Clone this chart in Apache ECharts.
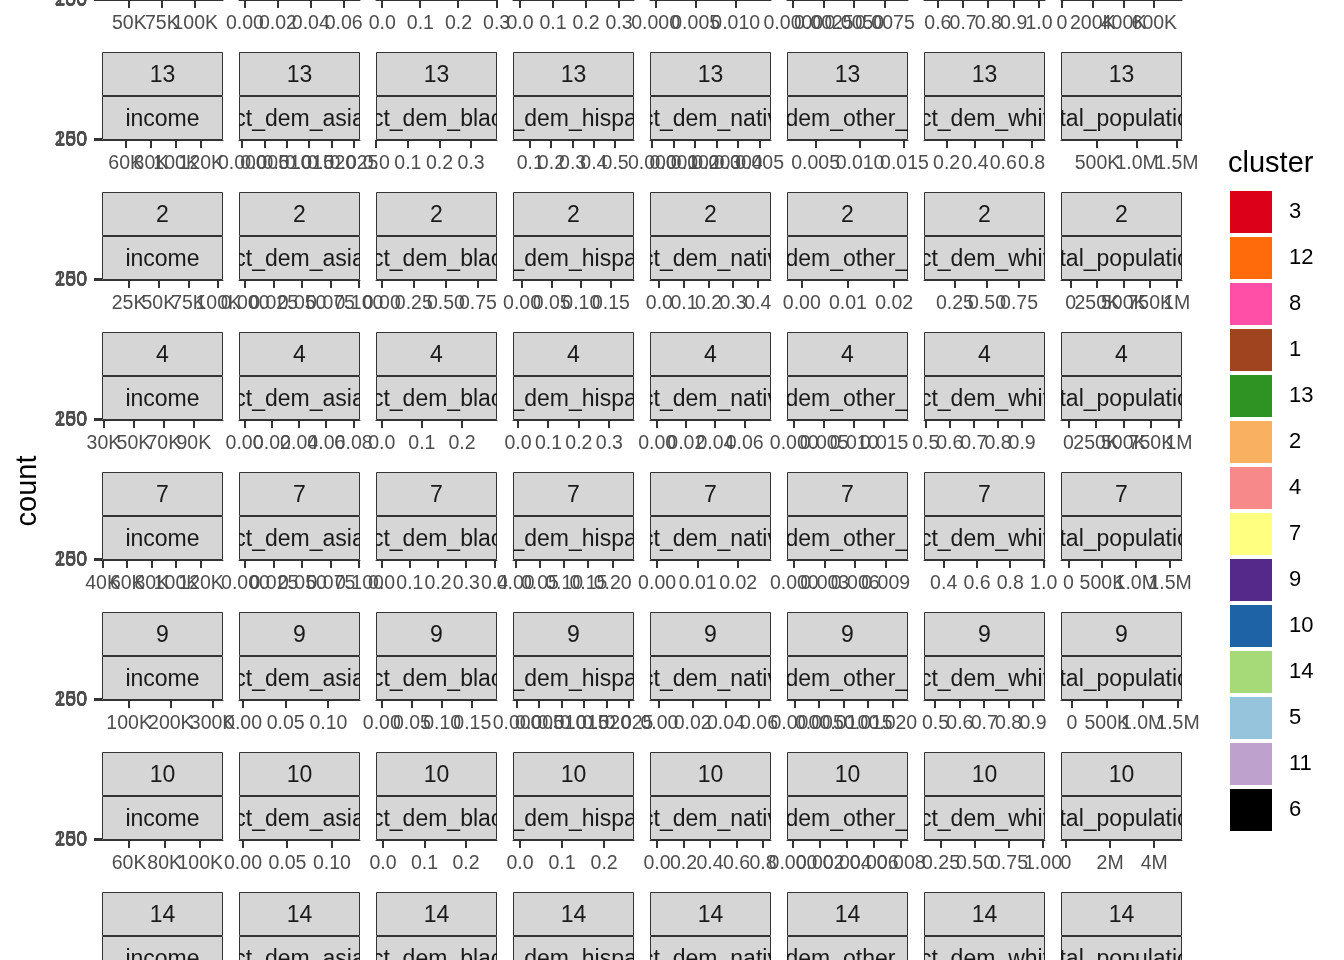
<!DOCTYPE html>
<html>
<head>
<meta charset="utf-8">
<script src="https://cdn.jsdelivr.net/npm/echarts@6/dist/echarts.min.js"></script>
<style>
html,body{margin:0;padding:0;background:#ffffff;}
#chart{width:1344px;height:960px;}
</style>
</head>
<body>
<div id="chart"></div>
<script>
// ---------------- data ----------------
const variables = ['income','pct_dem_asian','pct_dem_black','pct_dem_hispanic','pct_dem_native','pct_dem_other_race','pct_dem_white','total_population'];
const legendClusters = ['3','12','8','1','13','2','4','7','9','10','14','5','11','6'];
const clusterColors = ['#DC0019','#FF6A0A','#FF4FA7','#A0441F','#2E9322','#F9B061','#F8898A','#FFFF80','#55298A','#1D63A5','#A6DA79','#96C4DD','#BEA1CC','#000000'];
// facet rows visible in the picture (top row 1 and bottom row 14 are cut off)
const visibleClusters = ['1','13','2','4','7','9','10','14'];
const countBreaks = [0,50,100,150,200,250];
const countLabels = ['0','50','100','150','200','250'];

// x ranges, breaks and tick labels per facet row (one entry per variable)
const limits1 = [[29300,121000],[-0.0036,0.0699],[-0.0163,0.301],[-0.021,0.345],[-0.0007,0.0144],[-0.00052,0.00939],[0.545,1.024],[-6500,780000]];
const breaks1 = [[50000,75000,100000],[0,0.02,0.04,0.06],[0,0.1,0.2,0.3],[0,0.1,0.2,0.3],[0,0.005,0.01],[0,0.0025,0.005,0.0075],[0.6,0.7,0.8,0.9,1.0],[0,200000,400000,600000]];
const labels1 = [['50K','75K','100K'],['0.00','0.02','0.04','0.06'],['0.0','0.1','0.2','0.3'],['0.0','0.1','0.2','0.3'],['0.000','0.005','0.010'],['0.0000','0.0025','0.0050','0.0075'],['0.6','0.7','0.8','0.9','1.0'],['0','200K','400K','600K']];

const limits13 = [[41200,137200],[-0.00074,0.02634],[-0.001,0.382],[0.019,0.589],[-0.00011,0.00553],[0.00178,0.0154],[0.04,0.895],[40000,1565000]];
const breaks13 = [[60000,80000,100000,120000],[0,0.005,0.01,0.015,0.02,0.025],[0,0.1,0.2,0.3],[0.1,0.2,0.3,0.4,0.5],[0,0.001,0.002,0.003,0.004,0.005],[0.005,0.01,0.015],[0.2,0.4,0.6,0.8],[500000,1000000,1500000]];
const labels13 = [['60K','80K','100K','120K'],['0.000','0.005','0.010','0.015','0.020','0.025'],['0.0','0.1','0.2','0.3'],['0.1','0.2','0.3','0.4','0.5'],['0.000','0.001','0.002','0.003','0.004','0.005'],['0.005','0.010','0.015'],['0.2','0.4','0.6','0.8'],['500K','1.0M','1.5M']];

const limits2 = [[2200,104000],[-0.0054,0.1009],[-0.045,0.899],[-0.0152,0.189],[-0.038,0.454],[-0.0032,0.023],[0.008,0.953],[-92000,1050000]];
const breaks2 = [[25000,50000,75000,100000],[0,0.025,0.05,0.075,0.1],[0,0.25,0.5,0.75],[0,0.05,0.1,0.15],[0,0.1,0.2,0.3,0.4],[0,0.01,0.02],[0.25,0.5,0.75],[0,250000,500000,750000,1000000]];
const labels2 = [['25K','50K','75K','100K'],['0.000','0.025','0.050','0.075','0.100'],['0.00','0.25','0.50','0.75'],['0.00','0.05','0.10','0.15'],['0.0','0.1','0.2','0.3','0.4'],['0.00','0.01','0.02'],['0.25','0.50','0.75'],['0','250K','500K','750K','1M']];

const limits4 = [[28700,109500],[-0.0041,0.0847],[-0.0142,0.287],[-0.0164,0.381],[-0.0049,0.0781],[-0.0012,0.019],[0.493,0.995],[-68000,1027000]];
const breaks4 = [[30000,50000,70000,90000],[0,0.02,0.04,0.06,0.08],[0,0.1,0.2],[0,0.1,0.2,0.3],[0,0.02,0.04,0.06],[0,0.005,0.01,0.015],[0.5,0.6,0.7,0.8,0.9],[0,250000,500000,750000,1000000]];
const labels4 = [['30K','50K','70K','90K'],['0.00','0.02','0.04','0.06','0.08'],['0.0','0.1','0.2'],['0.0','0.1','0.2','0.3'],['0.00','0.02','0.04','0.06'],['0.000','0.005','0.010','0.015'],['0.5','0.6','0.7','0.8','0.9'],['0','250K','500K','750K','1M']];

const limits7 = [[39500,137800],[-0.0057,0.1005],[-0.02,0.4085],[-0.0054,0.244],[-0.00175,0.0281],[-0.00072,0.0112],[0.282,1.008],[-111000,1676000]];
const breaks7 = [[40000,60000,80000,100000,120000],[0,0.025,0.05,0.075,0.1],[0,0.1,0.2,0.3,0.4],[0,0.05,0.1,0.15,0.2],[0,0.01,0.02],[0,0.003,0.006,0.009],[0.4,0.6,0.8,1.0],[0,500000,1000000,1500000]];
const labels7 = [['40K','60K','80K','100K','120K'],['0.000','0.025','0.050','0.075','0.100'],['0.0','0.1','0.2','0.3','0.4'],['0.00','0.05','0.10','0.15','0.20'],['0.00','0.01','0.02'],['0.000','0.003','0.006','0.009'],['0.4','0.6','0.8','1.0'],['0','500K','1.0M','1.5M']];

const limits9 = [[35000,325000],[-0.0047,0.137],[-0.0096,0.191],[-0.0009,0.0261],[-0.0057,0.0672],[-0.0016,0.0231],[0.453,0.949],[-154000,1556000]];
const breaks9 = [[100000,200000,300000],[0,0.05,0.1],[0,0.05,0.1,0.15],[0,0.005,0.01,0.015,0.02,0.025],[0,0.02,0.04,0.06],[0,0.005,0.01,0.015,0.02],[0.5,0.6,0.7,0.8,0.9],[0,500000,1000000,1500000]];
const labels9 = [['100K','200K','300K'],['0.00','0.05','0.10'],['0.00','0.05','0.10','0.15'],['0.000','0.005','0.010','0.015','0.020','0.025'],['0.00','0.02','0.04','0.06'],['0.000','0.005','0.010','0.015','0.020'],['0.5','0.6','0.7','0.8','0.9'],['0','500K','1.0M','1.5M']];

const limits10 = [[44800,112800],[-0.0045,0.1315],[-0.0169,0.2747],[-0.0167,0.271],[-0.053,0.86],[-0.00044,0.0085],[0.125,1.0147],[-225000,5260000]];
const breaks10 = [[60000,80000,100000],[0,0.05,0.1],[0,0.1,0.2],[0,0.1,0.2],[0,0.2,0.4,0.6,0.8],[0,0.002,0.004,0.006,0.008],[0.25,0.5,0.75,1.0],[0,2000000,4000000]];
const labels10 = [['60K','80K','100K'],['0.00','0.05','0.10'],['0.0','0.1','0.2'],['0.0','0.1','0.2'],['0.0','0.2','0.4','0.6','0.8'],['0.000','0.002','0.004','0.006','0.008'],['0.25','0.50','0.75','1.00'],['0','2M','4M']];

// ---------------- layout / style ----------------
const FONT = 'Liberation Sans, Arial, Helvetica, sans-serif';
const PANEL_LEFT0 = 102, PANEL_STEP = 137, PANEL_W = 121;
const ROW_STEP = 140, FIRST_AXIS_Y = 0, STRIP_H = 44;
const STRIP_FILL = '#D6D6D6', STRIP_BORDER = '#333333';
const AXIS_COLOR = '#333333', TICK_TEXT = '#4D4D4D';
const TICK_LEN = 8, TICK_LABEL_OFFSET = 24, Y_LABEL_GAP = 15;

const rowScales = [
  [limits1, breaks1, labels1],
  [limits13, breaks13, labels13],
  [limits2, breaks2, labels2],
  [limits4, breaks4, labels4],
  [limits7, breaks7, labels7],
  [limits9, breaks9, labels9],
  [limits10, breaks10, labels10],
  null
];

const grids = [], xAxes = [], yAxes = [], series = [];

// x-axis ticks + tick labels, positioned through the panel's x scale
function xTickRenderer(labels) {
  return function (params, api) {
    const p = api.coord([api.value(0), api.value(1)]);
    const x = Math.round(p[0]), y = Math.round(p[1]);
    return { type: 'group', children: [
      { type: 'rect', shape: { x: x - 1, y: y, width: 2, height: TICK_LEN }, style: { fill: AXIS_COLOR } },
      { type: 'text', x: p[0], y: y + TICK_LABEL_OFFSET,
        style: { text: labels[params.dataIndex], fill: TICK_TEXT, fontSize: 19.5, fontFamily: FONT,
          align: 'center', verticalAlign: 'middle' } }
    ] };
  };
}

// y-axis (count) ticks + labels, positioned through the panel's y scale
function yTickRenderer(labels) {
  return function (params, api) {
    const p = api.coord([api.value(0), api.value(1)]);
    const x = Math.round(p[0]), y = Math.round(p[1]);
    return { type: 'group', children: [
      { type: 'rect', shape: { x: x - TICK_LEN, y: y - 1, width: TICK_LEN, height: 2 }, style: { fill: AXIS_COLOR } },
      { type: 'text', x: x - Y_LABEL_GAP, y: y + 1,
        style: { text: labels[params.dataIndex], fill: TICK_TEXT, fontSize: 19.5, fontFamily: FONT,
          align: 'right', verticalAlign: 'middle' } }
    ] };
  };
}

function stripRenderer(clusterLabel, varLabel) {
  return function (params, api) {
    const tl = api.coord([0, 1]);
    const br = api.coord([1, 0]);
    const x0 = tl[0], y0 = tl[1];
    const w = br[0] - tl[0], h = br[1] - tl[1];
    const mid = y0 + h / 2;
    const txt = function (t, y) {
      return { type: 'text', x: x0 + w / 2, y: y,
        style: { text: t, fill: '#1A1A1A', fontSize: 23, fontFamily: FONT, align: 'center', verticalAlign: 'middle' } };
    };
    return { type: 'group', children: [
      { type: 'rect', shape: { x: x0 + 0.5, y: y0 + 0.5, width: w - 1, height: h / 2 - 1 },
        style: { fill: STRIP_FILL, stroke: STRIP_BORDER, lineWidth: 1 } },
      { type: 'rect', shape: { x: x0 + 0.5, y: mid + 0.5, width: w - 1, height: h / 2 - 1 },
        style: { fill: STRIP_FILL, stroke: STRIP_BORDER, lineWidth: 1 } },
      txt(clusterLabel, y0 + h / 4 + 2),
      txt(varLabel, mid + h / 4 + 2)
    ] };
  };
}

visibleClusters.forEach(function (cl, r) {
  const axisY = FIRST_AXIS_Y + r * ROW_STEP;
  const sc = rowScales[r];
  variables.forEach(function (vname, c) {
    const left = PANEL_LEFT0 + c * PANEL_STEP;
    // strip (cluster / variable)
    const si = grids.length;
    grids.push({ left: left, top: axisY - 2 * STRIP_H, width: PANEL_W, height: 2 * STRIP_H, outerBoundsMode: 'none' });
    xAxes.push({ gridIndex: si, type: 'value', min: 0, max: 1, show: false, splitLine: { show: false } });
    yAxes.push({ gridIndex: si, type: 'value', min: 0, max: 1, show: false, splitLine: { show: false } });
    series.push({
      type: 'custom', xAxisIndex: si, yAxisIndex: si, clip: true, silent: true,
      data: [[0.5, 0.5]], renderItem: stripRenderer(cl, vname)
    });
    // panel (collapsed to zero height) with its x axis
    if (sc) {
      const gi = grids.length;
      const xmin = sc[0][c][0], xmax = sc[0][c][1];
      grids.push({ left: left, top: axisY - 1, width: PANEL_W, height: 1, outerBoundsMode: 'none' });
      xAxes.push({
        gridIndex: gi, type: 'value', min: xmin, max: xmax,
        axisLine: { show: true, onZero: false, lineStyle: { color: AXIS_COLOR, width: 1 } },
        axisTick: { show: false }, axisLabel: { show: false }, splitLine: { show: false }
      });
      yAxes.push({ gridIndex: gi, type: 'value', min: 0, max: 250, show: false, splitLine: { show: false } });
      series.push({
        type: 'custom', xAxisIndex: gi, yAxisIndex: gi, clip: false, silent: true,
        data: sc[1][c].map(function (b) { return [b, 0]; }),
        renderItem: xTickRenderer(sc[2][c])
      });
      if (c === 0) {
        series.push({
          type: 'custom', xAxisIndex: gi, yAxisIndex: gi, clip: false, silent: true,
          data: countBreaks.map(function (v) { return [xmin, v]; }),
          renderItem: yTickRenderer(countLabels)
        });
      }
    }
  });
});

// histogram series (one per cluster) -> legend
legendClusters.forEach(function (cl, i) {
  series.push({ type: 'bar', name: cl, xAxisIndex: 1, yAxisIndex: 1, data: [],
    itemStyle: { color: clusterColors[i] } });
});

const option = {
  animation: false,
  backgroundColor: '#ffffff',
  grid: grids,
  xAxis: xAxes,
  yAxis: yAxes,
  series: series,
  legend: {
    data: legendClusters, orient: 'vertical', left: 1230, top: 191, padding: 0,
    itemWidth: 42, itemHeight: 42, itemGap: 4, icon: 'rect', selectedMode: false,
    textStyle: { fontSize: 22, color: '#000000', fontFamily: FONT, padding: [10, 0, 0, 12] }
  },
  graphic: [
    { type: 'text', x: 28, y: 491, rotation: Math.PI / 2,
      style: { text: 'count', fontSize: 29, fill: '#000000', fontFamily: FONT, align: 'center', verticalAlign: 'middle' } },
    { type: 'text', x: 1228, y: 164,
      style: { text: 'cluster', fontSize: 29, fill: '#000000', fontFamily: FONT, align: 'left', verticalAlign: 'middle' } }
  ]
};

const chart = echarts.init(document.getElementById('chart'), null, { renderer: 'canvas' });
chart.setOption(option);
</script>
</body>
</html>
